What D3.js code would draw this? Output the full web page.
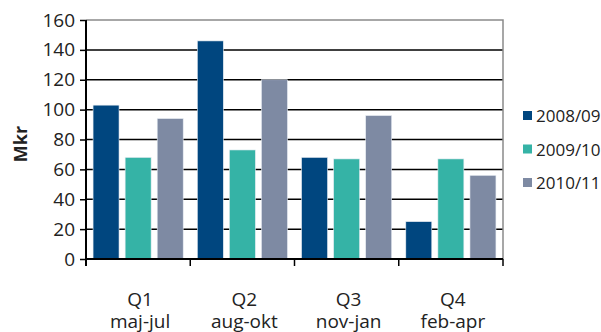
<!DOCTYPE html>
<html>
<head>
<meta charset="utf-8">
<script src="https://cdn.jsdelivr.net/npm/d3@7"></script>
<style>
  body { margin: 0; background: #fff; }
  svg text { font-family: "Open Sans", "Noto Sans", sans-serif; fill: #222; }
</style>
</head>
<body>
<div id="chart"></div>
<script>
// data
var quarters = ["Q1", "Q2", "Q3", "Q4"]
var months = ["maj-jul", "aug-okt", "nov-jan", "feb-apr"]
var seasons = ["2008/09", "2009/10", "2010/11"]
var v0809 = [103, 146, 68, 25]
var v0910 = [68, 73, 67, 67]
var v1011 = [94, 120, 96, 56]
var yTicks = [0, 20, 40, 60, 80, 100, 120, 140, 160]
var colors = ["#00467f", "#35b3a6", "#7e8aa3"]

var W = 601, H = 332
var pLeft = 86, pRight = 503, pTop = 20, pBottom = 259

var svg = d3.select("#chart").append("svg")
    .attr("width", W).attr("height", H)

var x0 = d3.scaleBand().domain(quarters).range([pLeft, pRight]).padding(0)
var x1 = d3.scaleBand().domain(seasons).range([0, x0.bandwidth()])
    .paddingInner(0.19).paddingOuter(0.22)
var y = d3.scaleLinear().domain([0, 160]).range([pBottom, pTop])

// gridlines
svg.append("g").selectAll("line")
    .data(yTicks.filter(function(d){ return d > 0 && d < 160 }))
    .enter().append("line")
    .attr("x1", pLeft).attr("x2", pRight)
    .attr("y1", function(d){ return y(d) }).attr("y2", function(d){ return y(d) })
    .attr("stroke", "#000").attr("stroke-width", 1.5)

// top and right border
svg.append("path")
    .attr("d", "M" + pLeft + "," + y(160) + "H" + pRight + "V" + pBottom)
    .attr("fill", "none").attr("stroke", "#8a8a8a").attr("stroke-width", 1.5)

// bars
var series = [v0809, v0910, v1011]
series.forEach(function(vals, s){
  svg.append("g").selectAll("rect")
    .data(vals).enter().append("rect")
    .attr("x", function(d, i){ return x0(quarters[i]) + x1(seasons[s]) })
    .attr("y", function(d){ return y(d) })
    .attr("width", x1.bandwidth())
    .attr("height", function(d){ return y(0) - y(d) })
    .attr("fill", colors[s])
    .attr("stroke", "#e6ecf2").attr("stroke-width", 0.6)
})

// y axis
var yAxis = svg.append("g")
    .attr("transform", "translate(" + pLeft + ",0)")
    .call(d3.axisLeft(y).tickValues(yTicks).tickSize(6).tickPadding(4))
yAxis.select(".domain").remove()
yAxis.selectAll("line").attr("stroke", "#000").attr("stroke-width", 1.5)
yAxis.selectAll("text").attr("font-size", 19).attr("dx", "-1").style("fill", "#222")
svg.append("line").attr("x1", pLeft).attr("x2", pLeft)
    .attr("y1", pTop).attr("y2", pBottom + 7)
    .attr("stroke", "#000").attr("stroke-width", 2)

// x axis
svg.append("line").attr("x1", pLeft).attr("x2", pRight)
    .attr("y1", pBottom).attr("y2", pBottom)
    .attr("stroke", "#000").attr("stroke-width", 2)
svg.append("g").selectAll("line")
    .data(quarters)
    .enter().append("line")
    .attr("x1", function(d){ return x0(d) + x0.step() })
    .attr("x2", function(d){ return x0(d) + x0.step() })
    .attr("y1", pBottom).attr("y2", pBottom + 7)
    .attr("stroke", "#000").attr("stroke-width", 1.5)

var cats = svg.append("g").selectAll("text")
    .data(quarters).enter().append("text")
    .attr("x", function(d){ return x0(d) + x0.bandwidth() / 2 + 2 })
    .attr("y", 306)
    .attr("text-anchor", "middle")
    .attr("font-size", 19)
cats.append("tspan").text(function(d){ return d })
cats.append("tspan")
    .attr("x", function(d){ return x0(d) + x0.bandwidth() / 2 + 2 })
    .attr("dy", 22)
    .text(function(d, i){ return months[i] })

// y label
svg.append("text")
    .attr("transform", "translate(27,144) rotate(-90)")
    .attr("text-anchor", "middle")
    .attr("font-size", 18).attr("font-weight", "bold")
    .text("Mkr")

// legend
var leg = svg.append("g").selectAll("g")
    .data(seasons).enter().append("g")
    .attr("transform", function(d, i){ return "translate(523," + (116 + i * 33.5) + ")" })
leg.append("rect").attr("x", 0).attr("y", -5).attr("width", 9).attr("height", 9)
    .attr("fill", function(d, i){ return colors[i] })
leg.append("text").attr("x", 13).attr("y", 6)
    .attr("font-size", 17)
    .text(function(d){ return d })
</script>
</body>
</html>
